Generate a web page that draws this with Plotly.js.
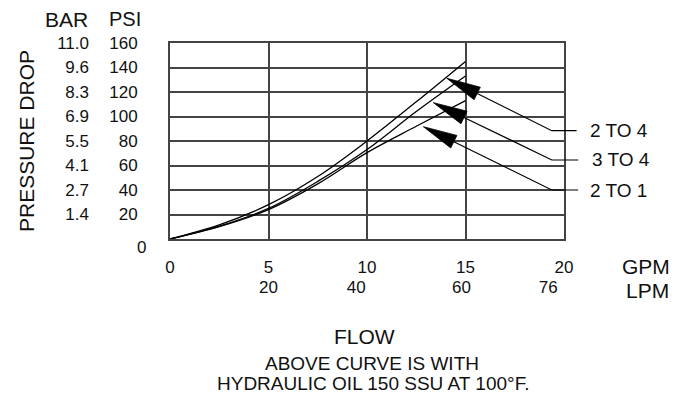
<!DOCTYPE html>
<html>
<head>
<meta charset="utf-8">
<script src="https://cdn.plot.ly/plotly-3.0.1.min.js"></script>
<style>html,body{margin:0;padding:0;background:#fff;}</style>
</head>
<body>
<div id="chart" style="width:677px;height:396px;"></div>
<script>
// ---- data ----
const flowGpm = [0, 2.5, 5, 7.5, 10, 12.5, 15];
const curve2to4 = [0, 11.5, 28, 51, 80, 112, 145];
const curve3to4 = [0, 10.5, 25, 47, 73, 104, 133];
const curve2to1 = [0, 10, 24, 45, 70.5, 92, 113];

const gpmTicks = [0, 5, 10, 15, 20];
const gpmLabels = ['0', '5', '10', '15', '20'];
const lpmPos = [5, 9.45, 14.8, 19.2];
const lpmLabels = ['20', '40', '60', '76'];
const psiTicks = [20, 40, 60, 80, 100, 120, 140, 160];
const psiLabels = ['20', '40', '60', '80', '100', '120', '140', '160'];
const barLabels = ['1.4', '2.7', '4.1', '5.5', '6.9', '8.3', '9.6', '11.0'];

// callouts: arrow tip on curve (gpm, psi), elbow (gpm, psi), end of horizontal leader (gpm)
const calloutNames = ['2 TO 4', '3 TO 4', '2 TO 1'];
const tipGpm = [14.05, 13.37, 12.86];
const tipPsi = [131.2, 111.3, 91.7];
const elbowGpm = [19.38, 19.38, 19.38];
const elbowPsi = [88.4, 64.5, 40.0];
const leaderEndGpm = [20.64, 20.72, 20.72];
const labelGpm = [21.23, 21.33, 21.23];

// ---- layout geometry ----
const W = 677, H = 396;
const M = {l: 170, r: 113, t: 43, b: 157};
const plotW = W - M.l - M.r, plotH = H - M.t - M.b;
const xMax = 20, yMax = 160;
const kx = plotW / xMax, ky = plotH / yMax;
const font = 'Liberation Sans, Arial, Helvetica, sans-serif';
const ink = '#111';
const gridC = '#444';

const traces = [
  {x: flowGpm, y: curve2to4, name: '2 TO 4'},
  {x: flowGpm, y: curve3to4, name: '3 TO 4'},
  {x: flowGpm, y: curve2to1, name: '2 TO 1'}
].map(t => Object.assign(t, {
  type: 'scatter', mode: 'lines',
  line: {color: '#000', width: 1.3, shape: 'spline', smoothing: 1},
  hoverinfo: 'skip'
}));
traces.push({type: 'scatter', x: [], y: [], xaxis: 'x2', yaxis: 'y2', hoverinfo: 'skip'});

// arrowheads + leader lines as shapes (x in paper units, y in data units)
const shapes = [];
const headLen = 34, headHalf = 7;
for (let i = 0; i < calloutNames.length; i++) {
  const dx = (elbowGpm[i] - tipGpm[i]) * kx;
  const dy = (elbowPsi[i] - tipPsi[i]) * ky;
  const len = Math.hypot(dx, dy);
  const ux = dx / len, uy = dy / len;
  const nx = -uy, ny = ux;
  const toX = px => (tipGpm[i] + px / kx) / xMax;
  const toY = py => tipPsi[i] + py / ky;
  const bx = headLen * ux, by = headLen * uy;
  const c1x = bx + headHalf * nx, c1y = by + headHalf * ny;
  const c2x = bx - headHalf * nx, c2y = by - headHalf * ny;
  shapes.push({
    type: 'path', xref: 'paper', yref: 'y',
    path: `M${toX(0)},${toY(0)} L${toX(c1x)},${toY(c1y)} L${toX(c2x)},${toY(c2y)} Z`,
    fillcolor: '#000', line: {color: '#000', width: 0.8}
  });
  shapes.push({
    type: 'path', xref: 'paper', yref: 'y',
    path: `M${toX(bx)},${toY(by)} L${elbowGpm[i] / xMax},${elbowPsi[i]} L${leaderEndGpm[i] / xMax},${elbowPsi[i]}`,
    line: {color: '#000', width: 1.2}
  });
}

const annotations = [];
for (let i = 0; i < calloutNames.length; i++) {
  annotations.push({
    xref: 'paper', yref: 'y', x: labelGpm[i] / xMax, y: elbowPsi[i],
    xanchor: 'left', yanchor: 'middle', showarrow: false,
    text: calloutNames[i], font: {family: font, size: 19, color: ink}
  });
}
const px2x = px => (px - M.l) / plotW;
const py2y = py => (H - M.b - py) / plotH;
function txt(text, px, py, size, extra) {
  annotations.push(Object.assign({
    xref: 'paper', yref: 'paper', x: px2x(px), y: py2y(py),
    xanchor: 'center', yanchor: 'middle', showarrow: false,
    text: text, font: {family: font, size: size, color: ink}
  }, extra || {}));
}
txt('PRESSURE DROP', 26, 141, 21, {textangle: -90});
txt('BAR', 66, 19, 21);
txt('PSI', 125, 19, 20);
txt('0', 148, 247, 17, {xanchor: 'right'});
txt('GPM', 646, 266, 21);
txt('LPM', 647, 290, 21);
txt('FLOW', 364, 336, 21);
txt('ABOVE CURVE IS WITH', 372, 363, 19);
txt('HYDRAULIC OIL 150 SSU AT 100°F.', 373, 383, 19);

const tickFont = {family: font, size: 17, color: ink};
const layout = {
  width: W, height: H,
  margin: M,
  paper_bgcolor: '#fff', plot_bgcolor: '#fff',
  showlegend: false,
  xaxis: {
    range: [0, xMax], tickmode: 'array', tickvals: gpmTicks, ticktext: gpmLabels,
    showgrid: true, gridcolor: gridC, gridwidth: 2,
    showline: true, mirror: true, linecolor: gridC, linewidth: 2,
    zeroline: false, ticks: '', ticklabelstandoff: 12, tickfont: tickFont, fixedrange: true
  },
  xaxis2: {
    overlaying: 'x', anchor: 'y2', side: 'bottom',
    range: [0, xMax], tickmode: 'array', tickvals: lpmPos, ticktext: lpmLabels,
    showgrid: false, showline: false, zeroline: false, ticks: '',
    ticklabelstandoff: 36, tickfont: tickFont, fixedrange: true
  },
  yaxis: {
    range: [0, yMax], tickmode: 'array', tickvals: psiTicks, ticktext: psiLabels,
    showgrid: true, gridcolor: gridC, gridwidth: 2,
    showline: true, mirror: true, linecolor: gridC, linewidth: 2,
    zeroline: false, ticks: '', ticklabelstandoff: 27, tickfont: tickFont, fixedrange: true
  },
  yaxis2: {
    overlaying: 'y', anchor: 'free', position: 0, side: 'left',
    range: [0, yMax], tickmode: 'array', tickvals: psiTicks, ticktext: barLabels,
    showgrid: false, showline: false, zeroline: false, ticks: '',
    ticklabelstandoff: 81, tickfont: tickFont, fixedrange: true
  },
  shapes: shapes,
  annotations: annotations
};

Plotly.newPlot('chart', traces, layout, {staticPlot: true, displayModeBar: false});
</script>
</body>
</html>
